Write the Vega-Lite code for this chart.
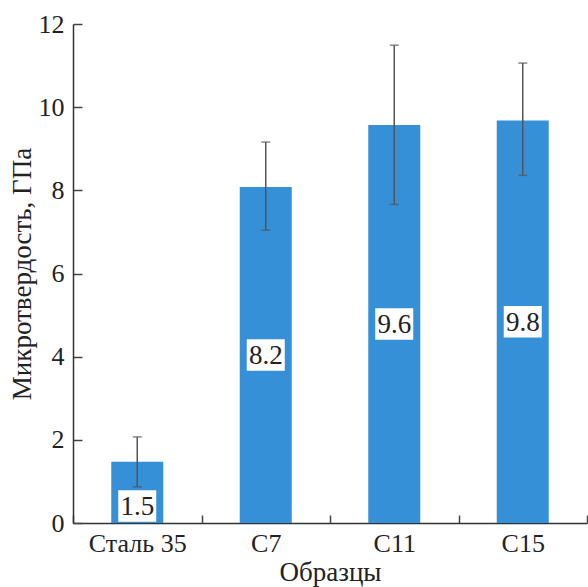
{
  "$schema": "https://vega.github.io/schema/vega-lite/v6.json",
  "width": 514,
  "height": 499,
  "autosize": {"type": "none"},
  "padding": {"left": 73, "top": 24, "right": 1, "bottom": 64},
  "background": "white",
  "config": {
    "view": {"stroke": null},
    "font": "Liberation Serif",
    "text": {"font": "Liberation Serif"},
    "axis": {
      "labelFont": "Liberation Serif",
      "titleFont": "Liberation Serif",
      "labelFontSize": 26,
      "titleFontSize": 27,
      "titleFontWeight": "normal",
      "labelColor": "#222",
      "titleColor": "#222",
      "domainColor": "#333",
      "domainWidth": 1.5,
      "tickColor": "#444",
      "tickWidth": 1.5,
      "grid": false
    }
  },
  "data": {
    "values": [
      {"sample": "Сталь 35", "mean": 1.47, "lo": 0.87, "hi": 2.07, "label": "1.5"},
      {"sample": "С7", "mean": 8.08, "lo": 7.04, "hi": 9.16, "label": "8.2"},
      {"sample": "С11", "mean": 9.57, "lo": 7.66, "hi": 11.49, "label": "9.6"},
      {"sample": "С15", "mean": 9.68, "lo": 8.36, "hi": 11.06, "label": "9.8"}
    ]
  },
  "transform": [
    {"calculate": "datum.mean < 3 ? 0.41 : datum.mean / 2", "as": "labelAt"},
    {"calculate": "datum.labelAt - 0.38", "as": "boxLo"},
    {"calculate": "datum.labelAt + 0.38", "as": "boxHi"}
  ],
  "encoding": {
    "x": {
      "field": "sample",
      "type": "nominal",
      "sort": null,
      "scale": {"paddingInner": 0, "paddingOuter": 0},
      "axis": {
        "title": "Образцы",
        "labelAngle": 0,
        "tickBand": "extent",
        "tickSize": -8,
        "labelPadding": 15,
        "titlePadding": 3
      }
    }
  },
  "layer": [
    {
      "mark": {"type": "bar", "color": "#3590d8", "width": 52},
      "encoding": {
        "y": {
          "field": "mean",
          "type": "quantitative",
          "scale": {"domain": [0, 12]},
          "axis": {
            "title": "Микротвердость, ГПа",
            "values": [0, 2, 4, 6, 8, 10, 12],
            "tickSize": -9,
            "labelPadding": 18,
            "titlePadding": 2
          }
        }
      }
    },
    {
      "mark": {"type": "rule", "color": "#555", "strokeWidth": 1.5},
      "encoding": {
        "y": {"field": "lo", "type": "quantitative"},
        "y2": {"field": "hi"}
      }
    },
    {
      "mark": {"type": "tick", "color": "#555", "size": 9, "thickness": 1.5},
      "encoding": {"y": {"field": "lo", "type": "quantitative"}}
    },
    {
      "mark": {"type": "tick", "color": "#555", "size": 9, "thickness": 1.5},
      "encoding": {"y": {"field": "hi", "type": "quantitative"}}
    },
    {
      "mark": {"type": "rect", "color": "white", "width": 38},
      "encoding": {
        "y": {"field": "boxLo", "type": "quantitative"},
        "y2": {"field": "boxHi"}
      }
    },
    {
      "mark": {"type": "text", "font": "Liberation Serif", "fontSize": 27, "color": "#222", "baseline": "middle", "dy": 1},
      "encoding": {
        "y": {"field": "labelAt", "type": "quantitative"},
        "text": {"field": "label"}
      }
    }
  ]
}
